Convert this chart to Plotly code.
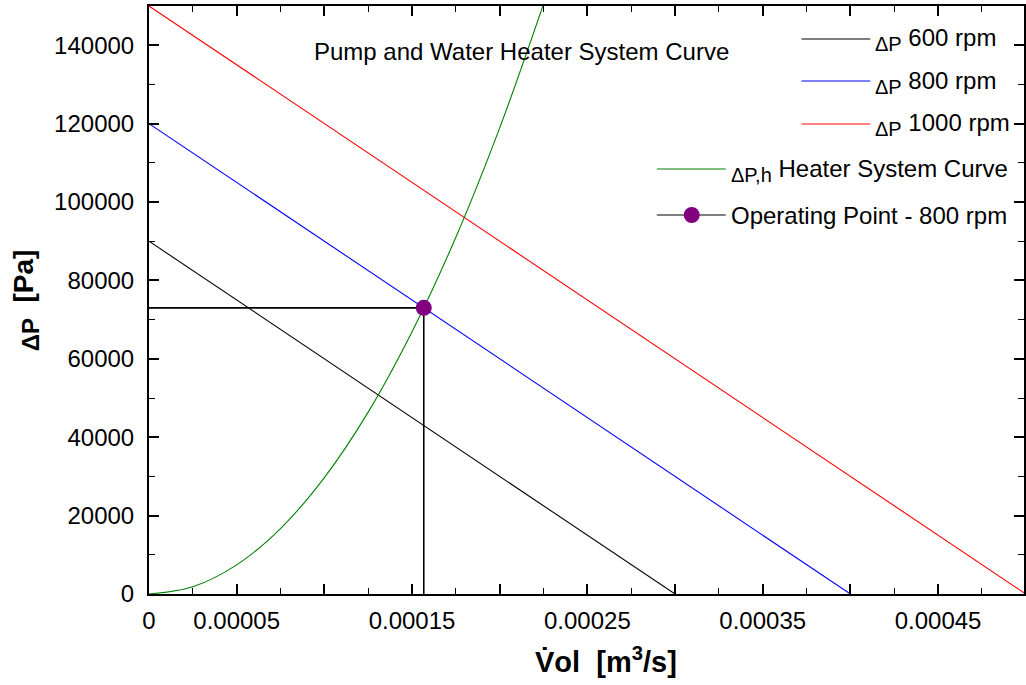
import plotly.graph_objects as go

# Pump curves: flow rate [m^3/s] vs pressure rise [Pa]
vol_600 = [0.0, 0.0003]
dp_600 = [90000, 0]
vol_800 = [0.0, 0.0004]
dp_800 = [120000, 0]
vol_1000 = [0.0, 0.0005]
dp_1000 = [150000, 0]

# Heater system curve
vol_heater = [0.0, 0.000025, 0.00005, 0.000075, 0.0001, 0.000125, 0.00015,
              0.000175, 0.0002, 0.000225]
dp_heater = [0, 1860, 7430, 16700, 29700, 46400, 66900, 91000, 118900, 150500]

# Operating point at 800 rpm
op_vol = 0.0001567
op_dp = 73000

x_tickvals = [0, 0.00005, 0.0001, 0.00015, 0.0002, 0.00025, 0.0003,
              0.00035, 0.0004, 0.00045]
x_ticktext = ["0", "0.00005", "", "0.00015", "", "0.00025", "",
              "0.00035", "", "0.00045"]

FONT = "Liberation Sans, Arial, sans-serif"


def dp_sub(s, px):
    return f'<sub><span style="font-size:{px}px">{s}</span></sub>'


fig = go.Figure()
line_w = 1.1
fig.add_trace(go.Scatter(x=vol_600, y=dp_600, mode="lines",
                         line=dict(color="black", width=line_w)))
fig.add_trace(go.Scatter(x=vol_800, y=dp_800, mode="lines",
                         line=dict(color="blue", width=line_w)))
fig.add_trace(go.Scatter(x=vol_1000, y=dp_1000, mode="lines",
                         line=dict(color="red", width=line_w)))
fig.add_trace(go.Scatter(x=vol_heater, y=dp_heater, mode="lines",
                         line=dict(color="green", width=line_w, shape="spline")))
# drop lines to the axes from the operating point
fig.add_trace(go.Scatter(x=[0, op_vol, op_vol], y=[op_dp, op_dp, 0], mode="lines",
                         line=dict(color="black", width=1.6)))
fig.add_trace(go.Scatter(x=[op_vol], y=[op_dp], mode="markers",
                         marker=dict(color="purple", size=16)))

fig.update_layout(
    width=1026, height=685,
    margin=dict(l=149, r=0, t=6, b=91),
    paper_bgcolor="white", plot_bgcolor="white",
    showlegend=False,
    font=dict(family=FONT, size=24, color="black"),
)
fig.update_xaxes(
    range=[0, 0.000499], tickmode="array", tickvals=x_tickvals, ticktext=x_ticktext,
    ticks="inside", ticklen=10, tickwidth=1.5, tickcolor="black",
    minor=dict(dtick=0.000025, tick0=0, ticks="inside", ticklen=6,
               tickwidth=1, tickcolor="black"),
    showline=True, linecolor="black", linewidth=2, mirror="ticks",
    showgrid=False, zeroline=False, ticklabelstandoff=4,
    tickfont=dict(size=24),
)
fig.update_yaxes(
    range=[0, 150000], tickmode="linear", tick0=0, dtick=20000, tickformat="d",
    ticks="inside", ticklen=10, tickwidth=1.5, tickcolor="black",
    minor=dict(dtick=10000, ticks="inside", ticklen=6, tickwidth=1,
               tickcolor="black"),
    showline=True, linecolor="black", linewidth=2, mirror="ticks",
    showgrid=False, zeroline=False, ticklabelstandoff=8,
    tickfont=dict(size=24),
)

annotations = [
    dict(text="Pump and Water Heater System Curve", x=522, y=52,
         font=dict(size=24)),
    dict(text="<b>V\u0307ol  [m<sup>3</sup>/s]</b>", x=607, y=660,
         font=dict(size=29)),
    dict(text="<b>" + dp_sub("\u0394P", 24) + "  [Pa]</b>", x=26, y=300,
         textangle=-90, font=dict(size=28)),
]

# Legend drawn as line samples and labels
legend_rows = [
    (803, 39, "black", dp_sub("\u0394P", 20) + " 600 rpm", False),
    (803, 81, "blue", dp_sub("\u0394P", 20) + " 800 rpm", False),
    (803, 124, "red", dp_sub("\u0394P", 20) + " 1000 rpm", False),
    (658, 169, "green", dp_sub("\u0394P,h", 20) + " Heater System Curve", False),
    (658, 215, "black", "Operating Point - 800 rpm", True),
]
shapes = []
for x0, yc, col, label, has_marker in legend_rows:
    shapes.append(dict(type="line", xref="paper", yref="paper",
                       x0=(x0 - 149) / 877, x1=(x0 + 69 - 149) / 877,
                       y0=(594 - yc) / 588, y1=(594 - yc) / 588,
                       line=dict(color=col, width=1.1)))
    if has_marker:
        cx, r = x0 + 35, 8
        shapes.append(dict(type="circle", xref="paper", yref="paper",
                           x0=(cx - r - 149) / 877, x1=(cx + r - 149) / 877,
                           y0=(594 - yc - r) / 588, y1=(594 - yc + r) / 588,
                           fillcolor="purple", line=dict(color="purple", width=0)))
    annotations.append(dict(text=label, x=x0 + 72, y=yc + 1, xanchor="left",
                            font=dict(size=24)))

for a in annotations:
    px, py = a.pop("x"), a.pop("y")
    a.update(xref="paper", yref="paper", x=(px - 149) / 877,
             y=(594 - py) / 588, showarrow=False)
    a.setdefault("xanchor", "center")
    a.setdefault("yanchor", "middle")
fig.update_layout(annotations=annotations, shapes=shapes)

fig.write_html("out.html")
